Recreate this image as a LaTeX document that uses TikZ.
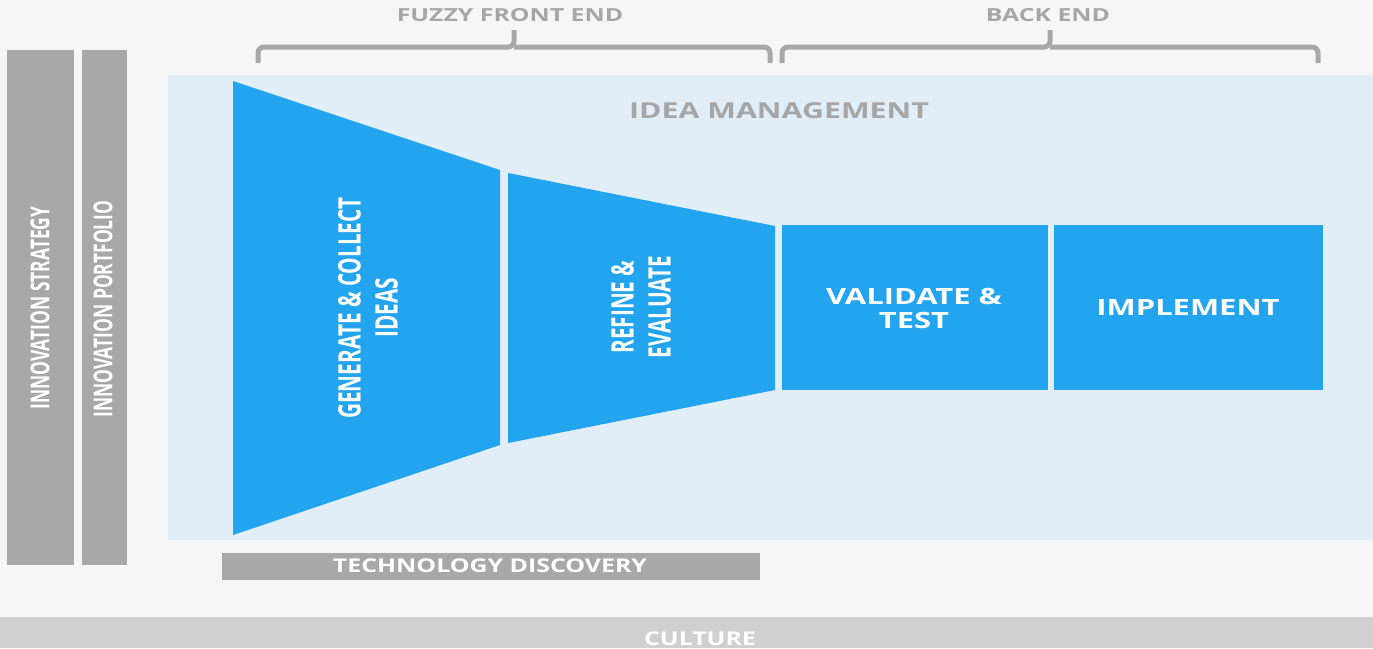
\documentclass[tikz,border=0pt]{standalone}
\usepackage{fontspec}
\setmainfont{Open Sans}
\newfontfamily\condfont[FakeStretch=0.67]{Open Sans}
\newfontfamily\wideA[FakeStretch=1.38]{Open Sans}
\newfontfamily\wideB[FakeStretch=1.31]{Open Sans}
\definecolor{bgc}{HTML}{F6F6F6}
\definecolor{panelc}{HTML}{E1EEF7}
\definecolor{bluec}{HTML}{23A4EE}
\definecolor{grayc}{HTML}{A8A8A8}
\definecolor{culturec}{HTML}{D0D0D0}
\definecolor{headc}{HTML}{A6A6A6}
\tikzset{
  bar/.style={fill=grayc, draw=none},
  blk/.style={fill=bluec, draw=none},
  brace/.style={draw=grayc, line width=5pt, rounded corners=6pt},
  vtext/.style={text=white, font=\condfont\bfseries\fontsize{31}{37}\selectfont, rotate=90, align=center, inner sep=0pt},
  vbartext/.style={text=white, font=\condfont\bfseries\fontsize{26}{30}\selectfont, rotate=90, inner sep=0pt},
  htext/.style={text=white, font=\wideA\bfseries\fontsize{22.4}{24}\selectfont, align=center, inner sep=0pt},
  headtext/.style={text=headc, font=\wideA\bfseries\fontsize{18}{22}\selectfont, inner sep=0pt},
  condh/.style={text=white, font=\wideB\bfseries\fontsize{19}{23}\selectfont, inner sep=0pt},
}
\begin{document}
\begin{tikzpicture}[x=1pt,y=-1pt]
\useasboundingbox (0,0) rectangle (1373,648);
\fill[bgc] (0,0) rectangle (1373,648);
% culture bar
\fill[culturec] (0,617) rectangle (1373,648);
\node[condh, anchor=base] (culture) at (700,645.5) {CULTURE};
% left bars
\fill[bar] (7,50) rectangle (74,565);
\fill[bar] (82,50) rectangle (127,565);
\node[vbartext] (strategy) at (40,308) {INNOVATION STRATEGY};
\node[vbartext] (portfolio) at (103,309) {INNOVATION PORTFOLIO};
% panel
\fill[panelc] (168,75) rectangle (1373,540);
\node[headtext, font=\wideA\bfseries\fontsize{22}{26}\selectfont] (ideamgmt) at (779,111) {IDEA MANAGEMENT};
% funnel
\fill[blk] (233,81) -- (500,170) -- (500,445) -- (233,535) -- cycle;
\fill[blk] (508,173) -- (775,226) -- (775,390) -- (508,443) -- cycle;
\fill[blk] (782,225) rectangle (1048,390);
\fill[blk] (1054,225) rectangle (1323,390);
\node[vtext] (generate) at (368,308) {GENERATE \& COLLECT\\IDEAS};
\node[vtext] (refine) at (641,307) {REFINE \&\\EVALUATE};
\node[htext] (validate) at (914,308) {VALIDATE \&\\TEST};
\node[htext] (implement) at (1188,307.5) {IMPLEMENT};
% technology discovery
\fill[bar] (222,553) rectangle (760,580);
\node[condh] (tech) at (490,566) {TECHNOLOGY DISCOVERY};
% brackets
\draw[brace] (258,63) -- (258,47) -- (514,47) -- (514,30);
\draw[brace] (514,47) -- (770,47) -- (770,63);
\draw[brace] (782,63) -- (782,47) -- (1050,47) -- (1050,30);
\draw[brace] (1050,47) -- (1318,47) -- (1318,63);
\node[headtext] (fuzzy) at (510,15) {FUZZY FRONT END};
\node[headtext] (backend) at (1048,15) {BACK END};
\end{tikzpicture}
\end{document}
